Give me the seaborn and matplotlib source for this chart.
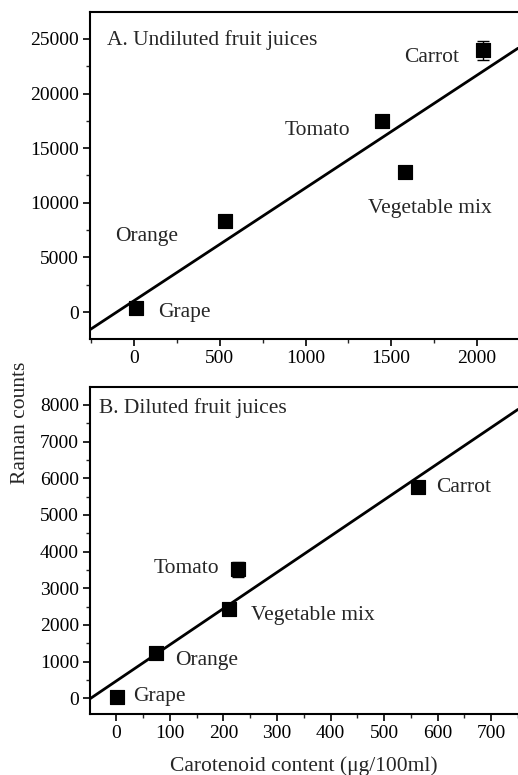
import numpy as np
import pandas as pd
import seaborn as sns
import matplotlib.pyplot as plt
from matplotlib.ticker import MultipleLocator

# panel A - undiluted juices
juicesA = ["Grape", "Orange", "Tomato", "Vegetable mix", "Carrot"]
caroA = [10, 530, 1448, 1578, 2035]
ramanA = [350, 8350, 17500, 12850, 23950]
errA = [0, 0, 0, 0, 900]

# panel B - diluted juices
juicesB = ["Grape", "Orange", "Tomato", "Vegetable mix", "Carrot"]
caroB = [1, 74, 227, 210, 564]
ramanB = [45, 1227, 3519, 2444, 5755]
errB = [0, 0, 210, 0, 0]

# label anchor points (data coords)
labA = {"Grape": (140, 0), "Orange": (-110, 6870), "Tomato": (880, 16580),
        "Vegetable mix": (1365, 9520), "Carrot": (1574, 23350)}
labB = {"Grape": (32, 60), "Orange": (110, 1040), "Tomato": (69, 3550),
        "Vegetable mix": (252, 2260), "Carrot": (597, 5740)}

sns.set_style("ticks")
plt.rcParams['font.family'] = ['Liberation Serif', 'DejaVu Serif']

fig = plt.figure(figsize=(5.18, 7.75), dpi=100)
axA = fig.add_axes([0.174, 0.5626, 0.826, 0.4219])
axB = fig.add_axes([0.174, 0.0787, 0.826, 0.4219])

dfA = pd.DataFrame({"x": caroA, "y": ramanA, "juice": juicesA})
dfB = pd.DataFrame({"x": caroB, "y": ramanB, "juice": juicesB})


def panel(ax, df, err, labels, title, tpos, xlim, ylim, xmaj, xmin, ymaj, ymin):
    ax.set_xlim(*xlim)
    ax.set_ylim(*ylim)
    sns.regplot(data=df, x="x", y="y", ax=ax, scatter=False, ci=None,
                truncate=False, line_kws={"color": "black", "lw": 2})
    ax.errorbar(df["x"], df["y"], yerr=err, fmt="none", ecolor="black",
                elinewidth=1, capsize=4, capthick=1)
    sns.scatterplot(data=df, x="x", y="y", ax=ax, marker="s", s=110,
                    color="black", edgecolor="black", zorder=3)
    for name, (tx, ty) in labels.items():
        ax.text(tx, ty, name, ha="left", va="center", fontsize=15.5)
    ax.text(tpos[0], tpos[1], title, transform=ax.transAxes,
            ha="left", va="center", fontsize=15.5)
    ax.xaxis.set_major_locator(MultipleLocator(xmaj))
    ax.xaxis.set_minor_locator(MultipleLocator(xmin))
    ax.yaxis.set_major_locator(MultipleLocator(ymaj))
    ax.yaxis.set_minor_locator(MultipleLocator(ymin))
    ax.set_xlim(*xlim)
    ax.set_ylim(*ylim)
    ax.spines["right"].set_visible(False)
    for s in ["left", "bottom", "top"]:
        ax.spines[s].set_linewidth(1.5)
        ax.spines[s].set_color("black")
    ax.tick_params(which="major", direction="out", length=5, width=1.2,
                   labelsize=14, colors="black", top=False, right=False, pad=3)
    ax.tick_params(which="minor", direction="out", length=3, width=1,
                   top=False, right=False)
    ax.set_xlabel("")
    ax.set_ylabel("")


panel(axA, dfA, errA, labA, "A. Undiluted fruit juices", (0.04, 0.914),
      (-257, 2240), (-2470, 27470), 500, 250, 5000, 2500)
axA.set_xticks([0, 500, 1000, 1500, 2000])
axA.set_xlim(-257, 2240)

panel(axB, dfB, errB, labB, "B. Diluted fruit juices", (0.021, 0.936),
      (-49, 750), (-430, 8490), 100, 50, 1000, 500)
axB.set_xticks([0, 100, 200, 300, 400, 500, 600, 700])
axB.set_xlim(-49, 750)

axB.set_xlabel("Carotenoid content (μg/100ml)", fontsize=15.5, labelpad=10)
fig.text(0.039, 0.454, "Raman counts", rotation=90, ha="center", va="center",
         fontsize=15.5)

fig.savefig("out.png", dpi=100)
